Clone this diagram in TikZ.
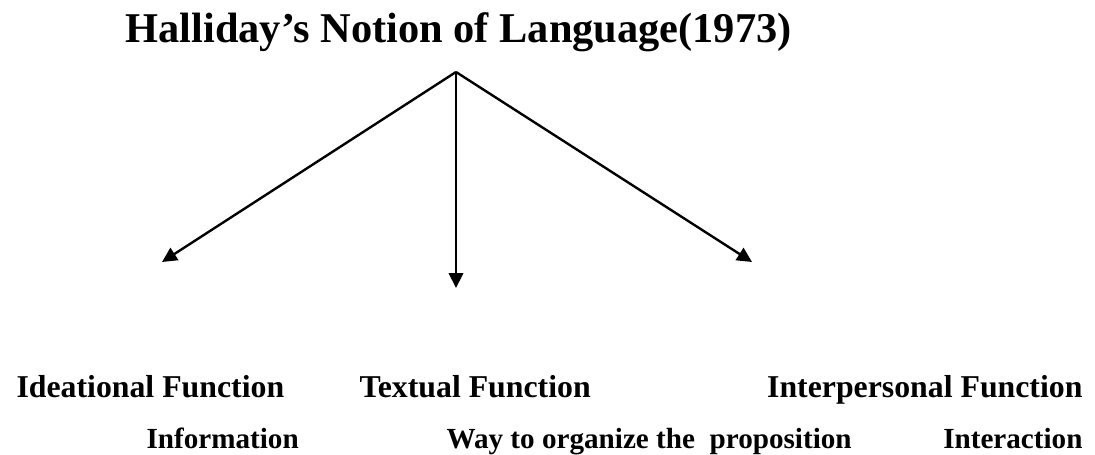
\documentclass[tikz,border=0pt]{standalone}
\usepackage{fontspec}
\setmainfont{Liberation Serif}
\usetikzlibrary{arrows.meta, positioning}
\tikzset{
	titletext/.style={
		inner sep=0pt, anchor=base west,
		font=\fontsize{16}{19}\selectfont\bfseries
	},
	functext/.style={
		inner sep=0pt,
		font=\fontsize{12}{14}\selectfont\bfseries
	},
	desctext/.style={
		inner sep=0pt,
		font=\fontsize{11}{13}\selectfont\bfseries
	},
	arrow/.style={
		-{Triangle[length=5.6pt, width=5.4pt]}, line width=0.9pt, color=black
	}
}
\begin{document}
\begin{tikzpicture}[x=0.3774pt, y=-0.3774pt]
		\useasboundingbox (0,0) rectangle (1095,455);
		
		%% ═══════════════════════════════
		%%  TITLE
		%% ═══════════════════════════════
		\node[titletext] (title) at (125,43) {Halliday’s Notion of Language(1973)};
		
		%% ═══════════════════════════════
		%%  BRANCH POINTS
		%% ═══════════════════════════════
		\coordinate (root)     at (456,72);
		\coordinate (ideatip)  at (162,262);
		\coordinate (texttip)  at (456,288);
		\coordinate (intertip) at (752,262);
		
		%% ═══════════════════════════════
		%%  ROW 1 — functions
		%% ═══════════════════════════════
		\node[functext, anchor=base west] (ideational)    at (16,397)   {Ideational Function};
		\node[functext, anchor=base west] (textual)       at (359,397)  {Textual Function};
		\node[functext, anchor=base east] (interpersonal) at (1083,397) {Interpersonal Function};
		
		%% ═══════════════════════════════
		%%  ROW 2 — what each one carries
		%% ═══════════════════════════════
		\node[desctext, anchor=base west] (information) at (146,448)  {Information};
		\node[desctext, anchor=base west] (organize)    at (446,448)  {Way to organize the \ proposition};
		\node[desctext, anchor=base east] (interaction) at (1083,448) {Interaction};
		
		%% ═══════════════════════════════
		%%  ARROWS
		%% ═══════════════════════════════
		\draw[arrow] (root) -- (ideatip);
		\draw[arrow] (root) -- (texttip);
		\draw[arrow] (root) -- (intertip);
	\end{tikzpicture}
\end{document}
